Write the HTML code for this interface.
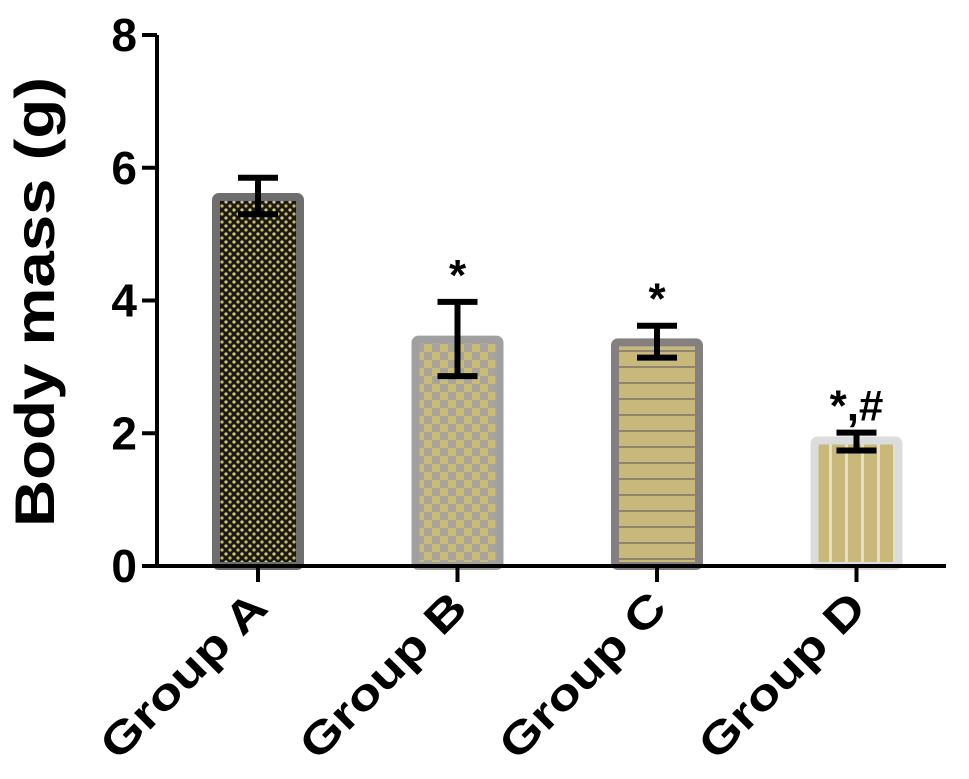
<!DOCTYPE html>
<html><head><meta charset="utf-8"><style>
html,body{margin:0;padding:0;background:#fff;}
svg{display:block;font-family:"Liberation Sans",Arial,sans-serif;font-weight:bold;}
</style></head><body>
<svg id="chart" width="969" height="779" viewBox="0 0 969 779" xmlns="http://www.w3.org/2000/svg">
<defs>
<pattern id="patA" width="8" height="8" patternUnits="userSpaceOnUse">
<rect width="8" height="8" fill="#1a1a10"/><circle cx="2" cy="2" r="1.6" fill="#d8c98a"/><circle cx="6" cy="6" r="1.6" fill="#c8b870"/>
</pattern>
<pattern id="patB" width="16" height="16" patternUnits="userSpaceOnUse">
<rect width="16" height="16" fill="#a8a49a"/><rect width="8" height="8" fill="#c9bb78"/><rect x="8" y="8" width="8" height="8" fill="#c9bb78"/>
</pattern>
<pattern id="patC" width="10" height="16" patternUnits="userSpaceOnUse">
<rect width="10" height="16" fill="#c8b87a"/><rect y="14" width="10" height="2" fill="#8f8570"/>
</pattern>
<pattern id="patD" width="16" height="10" patternUnits="userSpaceOnUse">
<rect width="16" height="10" fill="#c8b87a"/><rect x="13" width="3" height="10" fill="#e6e0c8"/>
</pattern>
</defs>
<g id="plot"></g>
<text transform="translate(54,302) rotate(-90)" text-anchor="middle" font-size="56" textLength="450" lengthAdjust="spacingAndGlyphs">Body mass (g)</text>
</svg>
<script>
const categories = ["Group A","Group B","Group C","Group D"];
const means = [5.56, 3.41, 3.37, 1.89];
const errUpper = [5.85, 3.98, 3.62, 2.01];
const errLower = [5.30, 2.86, 3.14, 1.74];
const sigLabels = ["", "*", "*", "*,#"];
const yTicks = [0, 2, 4, 6, 8];

const NS = "http://www.w3.org/2000/svg";
const g = document.getElementById('plot');
const x0 = 157, y0 = 566, yTop = 35, yMax = 8;
const y = v => y0 - (y0 - yTop) * v / yMax;
const xc = i => 258 + i * 199.5;
const fills = ["url(#patA)","url(#patB)","url(#patC)","url(#patD)"];
const strokes = ["#6e6e6e","#a0a0a0","#858080","#dcdcdc"];
function mk(tag, attrs){const e=document.createElementNS(NS,tag);for(const k in attrs)e.setAttribute(k,attrs[k]);g.appendChild(e);return e;}

yTicks.forEach(t=>{
  const l = mk('line',{x1:x0-15,x2:x0,y1:y(t),y2:y(t),stroke:'#000','stroke-width':4});
  
  
  const tx = mk('text',{x:x0-20,y:y(t)+16,'text-anchor':'end','font-size':46});
  tx.textContent = t;
  
  
});

categories.forEach((c,i)=>{
  const bw = 84, cx = xc(i);
  const r = mk('rect',{x:cx-bw/2,y:y(means[i]),width:bw,height:y0-y(means[i]),fill:fills[i],stroke:strokes[i],'stroke-width':8,rx:3});
  
  
  const eg = document.createElementNS(NS,'g');
  
  
  g.appendChild(eg);
  [[cx,y(errUpper[i]),cx,y(errLower[i])],[cx-20,y(errUpper[i]),cx+20,y(errUpper[i])],[cx-20,y(errLower[i]),cx+20,y(errLower[i])]].forEach(p=>{
    const l=document.createElementNS(NS,'line');
    l.setAttribute('x1',p[0]);l.setAttribute('y1',p[1]);l.setAttribute('x2',p[2]);l.setAttribute('y2',p[3]);
    l.setAttribute('stroke','#000');l.setAttribute('stroke-width',6);
    eg.appendChild(l);
  });
  if(sigLabels[i]){
    const s = mk('text',{x:cx,y:y(errUpper[i])-12,'text-anchor':'middle','font-size':44});
    s.textContent = sigLabels[i];
    
    
  }
  const tk = mk('line',{x1:cx,x2:cx,y1:y0,y2:y0+16,stroke:'#000','stroke-width':4});
  
  
  const lb = mk('text',{transform:`translate(${cx+12},${y0+44}) rotate(-45)`,'text-anchor':'end','font-size':44,textLength:215,lengthAdjust:'spacingAndGlyphs'});
  lb.textContent = c;
  
  
});

const ya = mk('line',{x1:x0,x2:x0,y1:yTop,y2:y0+2,stroke:'#000','stroke-width':4});


const xa = mk('line',{x1:x0-15,x2:946,y1:y0,y2:y0,stroke:'#000','stroke-width':4});


</script>
</body></html>
